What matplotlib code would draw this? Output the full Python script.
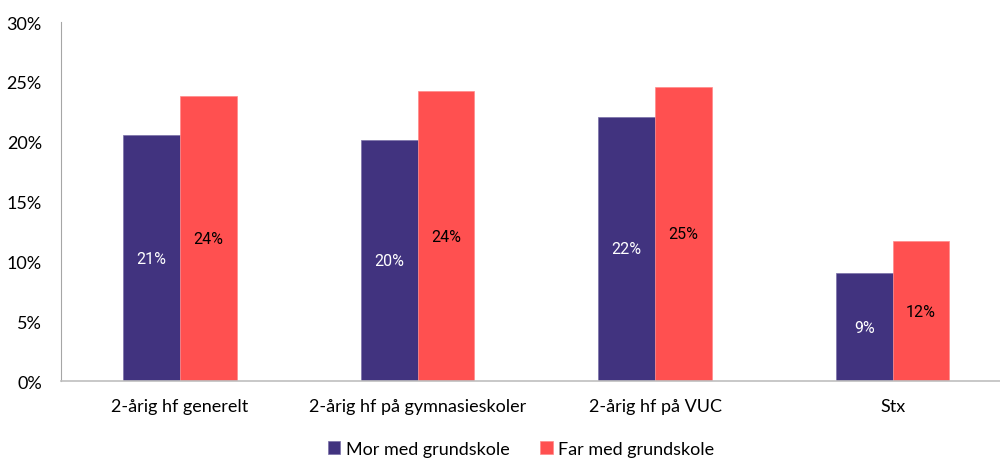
import numpy as np
import matplotlib
matplotlib.use('Agg')
import matplotlib.pyplot as plt

# Data
categories = ['2-årig hf generelt', '2-årig hf på gymnasieskoler', '2-årig hf på VUC', 'Stx']
mor = [20.55, 20.1, 22.1, 9.0]
far = [23.8, 24.2, 24.6, 11.7]
series_names = ['Mor med grundskole', 'Far med grundskole']

plt.rcParams['font.family'] = ['Lato', 'DejaVu Sans']

fig = plt.figure(figsize=(10, 4.64), dpi=100)
ax = fig.add_axes([0.0613, 0.1767, 0.95, 0.7737])

x = np.arange(len(categories))
w = 0.2386
b1 = ax.bar(x - w / 2, mor, w, color='#41337f', edgecolor='#7a70a8', linewidth=0.5,
            label=series_names[0])
b2 = ax.bar(x + w / 2, far, w, color='#ff5050', edgecolor='#ff8a8a', linewidth=0.5,
            label=series_names[1])

# value labels centred in the bars
for rect, v in zip(b1, mor):
    ax.text(rect.get_x() + rect.get_width() / 2, v / 2, f'{int(v + 0.5)}%',
            ha='center', va='center', color='white', fontsize=11.5, family='Roboto')
for rect, v in zip(b2, far):
    ax.text(rect.get_x() + rect.get_width() / 2, v / 2, f'{int(v + 0.5)}%',
            ha='center', va='center', color='black', fontsize=11.5, family='Roboto')

ax.set_xlim(-0.5, 3.5)
ax.set_ylim(0, 30)
ax.set_yticks(range(0, 31, 5))
ax.set_yticklabels([f'{t}%' for t in range(0, 31, 5)])
ax.set_xticks(x)
ax.set_xticklabels(categories)
ax.tick_params(axis='both', length=0, labelsize=13, colors='black')
ax.tick_params(axis='y', pad=14)
ax.tick_params(axis='x', pad=12)

for s in ['top', 'right']:
    ax.spines[s].set_visible(False)
ax.spines['left'].set_color('#a6a6a6')
ax.spines['bottom'].set_color('#bfbfbf')
ax.spines['bottom'].set_linewidth(1.2)

fig.legend(loc='lower center', bbox_to_anchor=(0.521, -0.022), ncol=2, frameon=False,
           fontsize=13, handlelength=0.7, handleheight=0.7, handletextpad=0.3,
           columnspacing=1.7)

fig.savefig('out.png', dpi=100)
